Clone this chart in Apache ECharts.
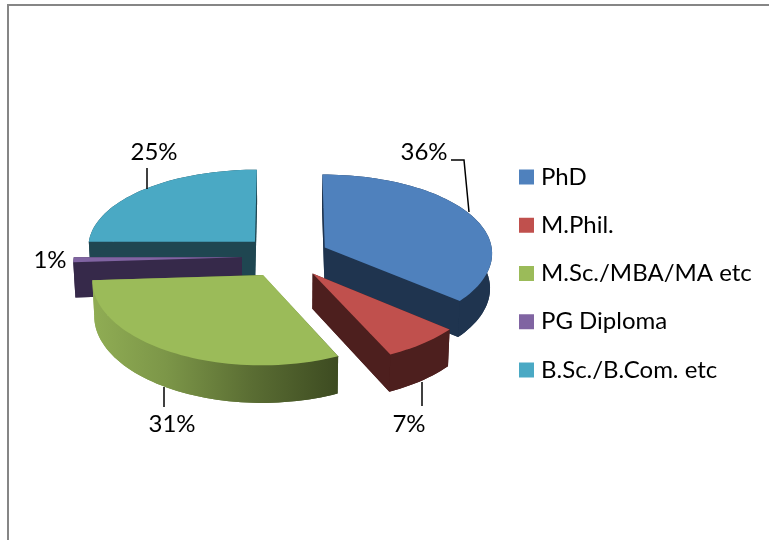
<!DOCTYPE html>
<html><head><meta charset="utf-8">
<style>html,body{margin:0;padding:0;background:#fff}#c{width:769px;height:540px}</style>
<script src="https://cdn.jsdelivr.net/npm/echarts@6/dist/echarts.min.js"></script>
</head><body><div id="c"></div>
<script>
const categories = ['PhD','M.Phil.','M.Sc./MBA/MA etc','PG Diploma','B.Sc./B.Com. etc'];
const values = [36,7,31,1,25];
const topColors = ['#4F81BD','#C0504D','#9BBB59','#8064A2','#4AA9C4'];
const wallColors = ['#1F344F','#4D1F1E',null,'#36294A','#1F4651'];
const zOrder = [4,5,3,2,1];
const labelPos = [[424,152],[409,424],[172,424],[50,260],[154,152]];
const leaders = [[[451,160],[464,160],[469,212]],[[422,382],[422,406]],[[164,387],[164,407]],[],[[147,168],[147,189]]];

const FONT = 'Lato';
const cx=285.5, cy=256.5, Rx=168, Ry=81, kx=0.06, ky=0.08, explode=0.26, depth=35;
const total = values.reduce((a,b)=>a+b,0);
function proj(wx,wy,low){
  const s=(1+kx*wy)*(low?0.99:1);
  const d=low?depth*(1+kx*wy):0;
  return [cx+wx*Rx*s, cy+wy*Ry*(1+ky*wy)+d];
}
function sliceShapes(i){
  let cum=0; for(let j=0;j<i;j++) cum+=values[j];
  const a0=cum/total*Math.PI*2, a1=(cum+values[i])/total*Math.PI*2, m=(a0+a1)/2;
  const ox=explode*Math.sin(m), oy=-explode*Math.cos(m);
  const arc=[]; const n=Math.max(2,Math.ceil((a1-a0)/(Math.PI/90)));
  for(let t=0;t<=n;t++){const a=a0+(a1-a0)*t/n; arc.push([ox+Math.sin(a),oy-Math.cos(a)]);}
  return {ox,oy,arc};
}
function renderSlice(i){
  return function(params,api){
    const {ox,oy,arc}=sliceShapes(i);
    const top=[[ox,oy],...arc].map(p=>proj(p[0],p[1],false));
    const low=[[ox,oy],...arc].map(p=>proj(p[0],p[1],true));
    const arcTop=top.slice(1), arcLow=low.slice(1);
    const wallFill = wallColors[i] || new echarts.graphic.LinearGradient(0,0,1,0,[
      {offset:0,color:'#90AD54'},{offset:0.3,color:'#7C9648'},{offset:0.65,color:'#5A6D33'},{offset:1,color:'#3D4B21'}]);
    const poly=(pts,fill)=>({type:'polygon',shape:{points:pts},style:{fill:fill,stroke:null},silent:true});
    const children=[];
    const wallPts=[...arcTop,...arcLow.slice().reverse()];
    children.push(poly(low,wallFill));
    children.push(poly([top[0],arcTop[0],arcLow[0],low[0]],wallFill));
    children.push(poly([top[0],arcTop[arcTop.length-1],arcLow[arcLow.length-1],low[0]],wallFill));
    children.push(poly(wallPts,wallFill));
    children.push(poly(top,topColors[i]));
    if(leaders[i].length) children.push({type:'polyline',shape:{points:leaders[i]},style:{fill:null,stroke:'#000',lineWidth:1.5},silent:true});
    const v=api.value(0);
    children.push({type:'text',x:labelPos[i][0],y:labelPos[i][1],silent:true,
      style:{text:v+'%',font:'24px '+FONT,fill:'#000',align:'center',verticalAlign:'middle'}});
    return {type:'group',children};
  };
}
const chart=echarts.init(document.getElementById('c'),null,{renderer:'canvas'});
chart.setOption({
  animation:false,
  backgroundColor:'#fff',
  legend:{orient:'vertical',left:514,top:160,itemWidth:15,itemHeight:15,itemGap:24.25,
    icon:'rect',data:categories,selectedMode:false,
    textStyle:{fontFamily:FONT,fontSize:24,color:'#000',padding:[0,0,0,2]}},
  graphic:[{type:'polyline',silent:true,shape:{points:[[8,540],[8,5],[769,5]]},style:{fill:null,stroke:'#868686',lineWidth:2}}],
  series:categories.map((name,i)=>({
    type:'custom',name,coordinateSystem:'none',z:zOrder[i]+2,
    itemStyle:{color:topColors[i]},
    data:[[values[i]]],
    encode:{value:0},
    renderItem:renderSlice(i)
  }))
});
</script></body></html>
